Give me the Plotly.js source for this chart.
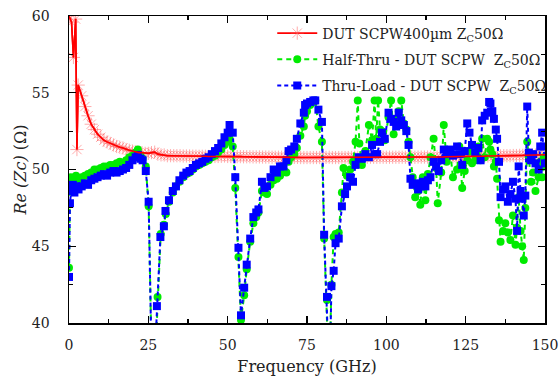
<!DOCTYPE html>
<html>
<head>
<meta charset="utf-8">
<script src="https://cdn.plot.ly/plotly-3.0.1.min.js"></script>
<style>html,body{margin:0;padding:0;background:#fff}#chart{width:559px;height:380px}</style>
</head>
<body>
<div id="chart"></div>
<script>
// ---- data ----
const seriesNames = [
  'DUT SCPW400\u00b5m Z<sub>C</sub>50\u03a9',
  'Half-Thru - DUT SCPW\u00a0\u00a0Z<sub>C</sub>50\u03a9',
  'Thru-Load - DUT SCPW\u00a0\u00a0Z<sub>C</sub>50\u03a9'
];

const redFreq = [0, 0.8, 1.4, 2.1, 2.5, 2.9,
  4,5,6,7,8,9,10,11,12,13,
  14,15,16,17,18,19,20,21,22,23,
  24,25,26,27,28,29,30,31,32,33,
  34,35,36,37,38,39,40,41,42,43,
  44,45,46,47,48,49,50,51,52,53,
  54,55,56,57,58,59,60,61,62,63,
  64,65,66,67,68,69,70,71,72,73,
  74,75,76,77,78,79,80,81,82,83,
  84,85,86,87,88,89,90,91,92,93,
  94,95,96,97,98,99,100,101,102,103,
  104,105,106,107,108,109,110,111,112,113,
  114,115,116,117,118,119,120,121,122,123,
  124,125,126,127,128,129,130,131,132,133,
  134,135,136,137,138,139,140,141,142,143,
  144,145,146,147,148,149,150];
const redZc = [60.0, 59.6, 57.3, 59.8, 51.3, 55.5,
  54.8, 54.1, 53.5, 52.95, 52.6, 52.3, 52.1, 51.9, 51.8, 51.7,
  51.6, 51.5, 51.45, 51.4, 51.3, 51.25, 51.2, 51.15, 51.1, 51.1,
  51.05, 51.05, 51.1, 51.13, 51.0, 50.95, 50.95, 50.9, 50.9, 50.9,
  50.9, 50.9, 50.88, 50.88, 50.88, 50.87, 50.87, 50.86, 50.86, 50.86,
  50.85, 50.85, 50.85, 50.85, 50.86, 50.88, 50.85, 50.84, 50.84, 50.84,
  50.84, 50.83, 50.83, 50.83, 50.82, 50.82, 50.82, 50.81, 50.81, 50.81,
  50.8, 50.8, 50.8, 50.8, 50.8, 50.79, 50.79, 50.79, 50.79, 50.78,
  50.78, 50.78, 50.78, 50.78, 50.78, 50.78, 50.78, 50.79, 50.8, 50.78,
  50.78, 50.78, 50.78, 50.78, 50.78, 50.79, 50.79, 50.79, 50.79, 50.8,
  50.8, 50.8, 50.8, 50.8, 50.8, 50.8, 50.8, 50.8, 50.8, 50.8,
  50.8, 50.8, 50.8, 50.8, 50.8, 50.8, 50.81, 50.81, 50.81, 50.81,
  50.82, 50.82, 50.82, 50.82, 50.82, 50.83, 50.83, 50.83, 50.83, 50.84,
  50.84, 50.84, 50.85, 50.85, 50.86, 50.86, 50.87, 50.87, 50.88, 50.88,
  50.88, 50.89, 50.89, 50.9, 50.9, 50.9, 50.91, 50.91, 50.92, 50.92,
  50.93, 50.93, 50.94, 50.94, 50.95, 50.95, 50.96];

const greenFreq = [0, 0.3, 0.6, 1.1, 1.6, 2.2, 3, 4, 5, 6,
  7, 8, 9, 10, 11, 12, 13, 14, 15, 16,
  17, 18, 19, 20, 21, 21.7, 22.5, 23.2, 24.2, 25.1,
  26.4, 27.9, 28.9, 29.9, 30.5, 31.5, 32.7, 33.7, 34.8, 36,
  37, 38, 39, 40, 41, 42, 43, 44, 45, 46,
  47, 48, 49, 50, 50.6, 51.6, 52.4, 53.4, 54.2, 55.2,
  56, 57.1, 58.1, 59, 59.7, 60.8, 61.6, 62.4, 63.5, 64.5,
  65.5, 66.5, 67.6, 68.5, 69.2, 70, 71, 71.8, 72.9, 74,
  74.4, 75, 76, 77, 77.6, 78.6, 79.7, 80.4, 81.3, 82,
  82.7, 83.4, 84, 85, 86, 86.5, 87.6, 88.6, 89.5, 90.3,
  91, 91.5, 92.3, 93.4, 94.5, 95.5, 96.3, 96.8, 97.4, 98,
  98.6, 99.5, 100.7, 101.5, 102.3, 103.1, 103.9, 104.7, 105.5, 106.3,
  107, 107.6, 108.3, 109.1, 110, 110.7, 111.5, 112.3, 113.1, 113.9,
  114.9, 115.7, 116.2, 117.3, 118.1, 119, 120.2, 121, 122.3, 123,
  123.9, 124.7, 125.5, 126.2, 127, 128, 129, 129.7, 130.2, 131,
  131.8, 132.4, 132.8, 133.4, 133.9, 134.5, 134.9, 135.5, 136, 136.8,
  137.5, 138.3, 139.1, 139.9, 140.7, 141.2, 141.7, 142.3, 142.8, 143.3,
  143.8, 144.4, 144.9, 145.6, 146.3, 147, 148, 148.5, 149.1, 149.6,
  150];
const greenZc = [43.6, 48.8, 49.5, 49.3, 49.0, 49.6, 49.3, 49.5, 49.6, 49.7,
  49.8, 50.0, 50.0, 50.1, 50.2, 50.2, 50.3, 50.3, 50.4, 50.5,
  50.4, 50.6, 50.8, 50.9, 51.1, 51.3, 50.9, 50.7, 50.2, 47.6,
  34, 41.7, 45.8, 46.4, 47.1, 47.9, 48.5, 48.9, 49.2, 49.5,
  49.7, 49.8, 50.0, 50.2, 50.3, 50.4, 50.5, 50.6, 50.8, 50.9,
  51.1, 51.3, 51.6, 51.8, 52.0, 51.5, 48.8, 44.3, 40.2, 41.8,
  43.5, 45.3, 46.5, 46.9, 47.2, 48.6, 48.5, 48.4, 49.0, 49.3,
  49.4, 49.6, 49.9, 49.8, 50.5, 50.8, 51.0, 51.4, 52.2, 52.8,
  53.5, 53.8, 54.2, 54.4, 54.5, 52.8, 51.8, 45.5, 41.5, 36,
  42.5, 45.6, 45.8, 45.9, 48.5, 50.1, 49.6, 50.0, 50.5, 51.8,
  54.5, 51.7, 50.3, 51.2, 52.9, 51.9, 54.5, 52.0, 54.5, 52.6,
  52.5, 51.9, 53.4, 54.5, 52.3, 53.3, 53.8, 54.5, 53.0, 52.6,
  51.8, 50.8, 49.5, 48.2, 48.6, 47.7, 49.5, 48.0, 49.7, 50.8,
  52.0, 50.1, 47.8, 49.8, 52.9, 50.5, 51.0, 49.5, 50.0, 51.5,
  48.8, 49.9, 50.6, 51.2, 50.4, 50.6, 51.5, 50.6, 52.0, 50.8,
  52.0, 51.8, 51.3, 51.0, 50.2, 50.5, 49.4, 46.7, 45.3, 46.0,
  46.5, 45.9, 45.4, 47.0, 45.1, 46.2, 48.2, 46.0, 45.0, 44.1,
  47.5, 51.8, 50.8, 49.2, 49.8, 48.6, 49.5, 50.5, 49.5, 50.8,
  50.2];

const blueFreq = [0, 0.3, 0.7, 1.2, 1.7, 2.2, 3, 4, 5, 6,
  7, 8, 9, 10, 11, 12, 13, 14, 15, 16,
  17, 18, 19, 20, 21, 21.7, 22.5, 23.2, 24.2, 25.1,
  26.3, 27.7, 28.8, 29.9, 30.4, 31.5, 32.7, 33.7, 34.8, 36,
  37, 38, 39, 40, 41, 42, 43, 44, 45, 46,
  47, 48, 49, 50, 50.6, 51.6, 52.4, 53.4, 54.2, 55.2,
  56, 57.1, 58.1, 59, 59.7, 60.8, 61.6, 62.4, 63.5, 64.5,
  65.5, 66.5, 67.6, 68.5, 69.2, 70, 71, 71.8, 72.9, 74,
  74.4, 75, 76, 77, 77.6, 78.6, 79.7, 80.4, 81.3, 82.1,
  82.7, 83.4, 84, 85, 86, 87, 87.6, 88.6, 89.5, 90.3,
  91.3, 92.3, 93.4, 94.5, 95.5, 96.3, 97.1, 98, 98.6, 99.5,
  100.7, 101.5, 102.3, 103.1, 103.9, 104.7, 105.5, 106.3, 107, 107.6,
  108.3, 109.1, 110, 110.7, 111.5, 112.3, 113.1, 113.9, 114.9, 115.7,
  116.5, 117.3, 118.1, 119, 120.2, 121, 122.3, 123, 123.9, 124.7,
  125.5, 126.2, 127, 128, 129, 129.7, 130.2, 131, 131.8, 132.4,
  132.8, 133.4, 133.9, 134.5, 134.9, 135.5, 136, 136.8, 137.5, 138.3,
  139.1, 139.9, 140.7, 141.2, 141.7, 142.3, 142.8, 143.3, 143.8, 144.4,
  144.9, 145.6, 146.3, 147, 148, 148.5, 149.1, 149.6, 150];
const blueZc = [43.0, 47.8, 48.6, 49.0, 48.5, 48.9, 48.7, 48.9, 49.1, 49.0,
  49.3, 49.4, 49.5, 49.6, 49.7, 49.6, 49.8, 49.9, 49.8, 49.9,
  50.0, 50.1, 50.3, 50.6, 50.8, 50.95, 50.7, 50.6, 49.9, 47.9,
  34.5, 41.1, 45.6, 46.3, 47.3, 48.0, 48.6, 48.9, 49.3, 49.6,
  49.8, 49.9, 50.1, 50.3, 50.4, 50.5, 50.7, 50.8, 51.0, 51.2,
  51.4, 51.7, 52.1, 52.4, 52.9, 52.4, 49.5, 44.9, 40.5, 42.3,
  43.8, 45.5, 46.9, 47.2, 47.4, 49.2, 48.8, 48.9, 49.5, 50.0,
  49.8, 50.2, 50.2, 50.6, 51.2, 51.3, 51.5, 52.0, 53.0, 53.7,
  54.2, 54.3, 54.4, 54.5, 54.5, 53.9, 53.1, 45.75, 41.7, 36,
  42.4, 43.4, 45.2, 45.5, 47.6, 48.4, 48.9, 49.5, 49.2, 50.3,
  50.8, 50.7, 51.0, 50.8, 51.6, 51.0, 51.0, 51.8, 52.4, 52.0,
  53.7, 53.3, 53.1, 52.8, 53.7, 53.2, 52.9, 52.5, 51.6, 49.4,
  49.0, 49.1, 48.7, 48.9, 49.2, 48.9, 49.3, 49.5, 50.5, 50.2,
  49.9, 50.6, 51.3, 51.0, 51.3, 50.9, 51.5, 51.0, 50.3, 51.2,
  53.0, 52.4, 51.6, 51.1, 51.4, 50.6, 53.2, 53.5, 53.7, 54.4,
  54.3, 53.8, 53.3, 52.6, 52.0, 50.5, 48.2, 48.7, 48.9, 47.9,
  48.4, 49.2, 48.1, 46.0, 50.2, 48.6, 48.1, 47.0, 48.3, 54.1,
  51.1, 50.6, 51.0, 50.4, 50.0, 51.5, 52.4, 51.5, 50.4];

const xTickVals = [0, 25, 50, 75, 100, 125, 150];
const yTickVals = [40, 45, 50, 55, 60];

// ---- chart ----
const FONT = "'DejaVu Serif', 'Liberation Serif', serif";
const traces = [
  { x: redFreq, y: redZc, name: seriesNames[0], mode: 'lines+markers', legendgroup: 'a',
    line: { color: 'rgb(255,0,0)', width: 1.6 },
    marker: { symbol: 'asterisk-open', size: 11, color: 'rgba(255,90,90,0.5)', line: { width: 1, color: 'rgba(255,90,90,0.5)' } } },
  { x: greenFreq, y: greenZc, name: seriesNames[1], mode: 'lines+markers', legendgroup: 'b',
    line: { color: 'rgb(0,235,0)', width: 2, dash: '5px,4px' },
    marker: { symbol: 'circle', size: 8, color: 'rgb(0,235,0)' } },
  { x: blueFreq, y: blueZc, name: seriesNames[2], mode: 'lines+markers', legendgroup: 'c',
    line: { color: 'rgb(0,0,255)', width: 2, dash: '4px,3px' },
    marker: { symbol: 'square', size: 8, color: 'rgb(0,0,255)' } },
  { x: redFreq, y: redZc, mode: 'lines', showlegend: false, hoverinfo: 'skip',
    line: { color: 'rgb(255,0,0)', width: 1.6 } }
];

const axisCommon = {
  showline: true, linecolor: '#000', linewidth: 1.5, mirror: 'allticks',
  ticks: 'inside', ticklen: 7, tickwidth: 1.3, tickcolor: '#000',
  showgrid: false, zeroline: false, automargin: false,
  tickfont: { family: FONT, size: 14, color: '#222' }
};

const layout = {
  width: 559, height: 380,
  margin: { l: 69, r: 14, t: 16, b: 57, autoexpand: false },
  paper_bgcolor: '#fff', plot_bgcolor: '#fff',
  showlegend: true,
  legend: {
    x: 0.427, y: 0.995, xanchor: 'left', yanchor: 'top',
    bgcolor: 'rgba(255,255,255,0)', borderwidth: 0,
    font: { family: FONT, size: 14, color: '#222' },
    itemwidth: 40, traceorder: 'grouped', tracegroupgap: 5
  },
  xaxis: Object.assign({}, axisCommon, {
    range: [0, 150], tickvals: xTickVals, ticktext: xTickVals.map(String),
    ticklabelstandoff: 9,
    minor: { dtick: 12.5, tick0: 0, ticks: 'inside', ticklen: 4, tickwidth: 1.2, tickcolor: '#000' },
    title: { text: 'Frequency (GHz)', font: { family: FONT, size: 16, color: '#222' }, standoff: 8 }
  }),
  yaxis: Object.assign({}, axisCommon, {
    range: [40, 60], tickvals: yTickVals, ticktext: yTickVals.map(String),
    ticklabelstandoff: 15,
    minor: { dtick: 2.5, tick0: 40, ticks: 'inside', ticklen: 4, tickwidth: 1.2, tickcolor: '#000' },
    title: { text: '<i>Re (Zc)</i> (\u03a9)', font: { family: FONT, size: 16, color: '#222' }, standoff: 1 }
  })
};

Plotly.newPlot('chart', traces, layout, { displayModeBar: false, staticPlot: true });
</script>
</body>
</html>
